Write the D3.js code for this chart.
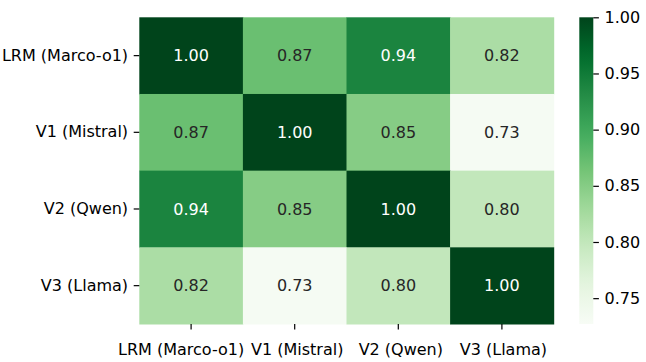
<!DOCTYPE html>
<html><head><meta charset="utf-8">
<script src="https://cdn.jsdelivr.net/npm/d3@7"></script>
<style>body{margin:0;background:#fff}svg{display:block}text{font-family:"DejaVu Sans",sans-serif}</style>
</head><body><svg id="c" width="646" height="362"></svg>
<script>
const labels = ["LRM (Marco-o1)", "V1 (Mistral)", "V2 (Qwen)", "V3 (Llama)"];
const row0 = [1.00, 0.87, 0.94, 0.82];
const row1 = [0.87, 1.00, 0.85, 0.73];
const row2 = [0.94, 0.85, 1.00, 0.80];
const row3 = [0.82, 0.73, 0.80, 1.00];
const matrix = [row0, row1, row2, row3];
const colorDomain = [0.727, 1.00];
const cbTicks = [0.75, 0.80, 0.85, 0.90, 0.95, 1.00];
const greens = ["#f7fcf5","#e5f5e0","#c7e9c0","#a1d99b","#74c476","#41ab5d","#238b45","#006d2c","#00441b"];

const FS = 16, TK = 5.6, PAD = 5.6, LW = 1.2;
const xLabelShift = [-10, 2.5, 2.5, 1.5];
const svg = d3.select("#c");
const L = 139.3, T = 17.3, R = 553.7, B = 324;
const x = d3.scaleBand().domain(labels).range([L, R]);
const y = d3.scaleBand().domain(labels).range([T, B]);
const norm = d3.scaleLinear().domain(colorDomain).range([0, 1]).clamp(true);
const cmap = d3.scaleLinear().domain(greens.map((_, i) => i / (greens.length - 1))).range(greens).interpolate(d3.interpolateRgb);
const color = v => cmap(norm(v));

const cells = [];
matrix.forEach((r, i) => r.forEach((v, j) => cells.push({r: labels[i], c: labels[j], v})));

svg.append("g").selectAll("rect").data(cells).join("rect")
  .attr("x", d => x(d.c)).attr("y", d => y(d.r))
  .attr("width", x.bandwidth() + 0.5).attr("height", y.bandwidth() + 0.5)
  .attr("fill", d => color(d.v));

function lum(c) {
  const k = d3.rgb(c);
  const f = u => { u /= 255; return u <= 0.03928 ? u / 12.92 : Math.pow((u + 0.055) / 1.055, 2.4); };
  return 0.2126 * f(k.r) + 0.7152 * f(k.g) + 0.0722 * f(k.b);
}
svg.append("g").selectAll("text").data(cells).join("text")
  .attr("x", d => x(d.c) + x.bandwidth() / 2).attr("y", d => y(d.r) + y.bandwidth() / 2)
  .attr("text-anchor", "middle").attr("dy", "0.36em")
  .attr("font-size", FS)
  .attr("fill", d => lum(color(d.v)) > 0.408 ? "#262626" : "#ffffff")
  .text(d => d.v.toFixed(2));

const xAxis = svg.append("g").attr("transform", `translate(0,${B})`)
  .call(d3.axisBottom(x).tickSize(TK).tickPadding(PAD));
const yAxis = svg.append("g").attr("transform", `translate(${L},0)`)
  .call(d3.axisLeft(y).tickSize(TK).tickPadding(PAD));
[xAxis, yAxis].forEach(a => {
  a.select(".domain").remove();
  a.selectAll("line").attr("stroke", "#000").attr("stroke-width", LW);
  a.selectAll("text").attr("font-size", FS).attr("fill", "#000").style("font-family", "DejaVu Sans, sans-serif");
});
xAxis.selectAll("text").attr("y", 20).attr("dy", "0.71em").attr("dx", (d, i) => xLabelShift[i]);

// colorbar
const cbL = 579.3, cbW = 14;
const cy = d3.scaleLinear().domain(colorDomain).range([B, T]);
const defs = svg.append("defs");
const grad = defs.append("linearGradient").attr("id", "g").attr("x1", 0).attr("y1", 1).attr("x2", 0).attr("y2", 0);
d3.range(0, 1.0001, 0.05).forEach(t => grad.append("stop").attr("offset", t).attr("stop-color", cmap(t)));
svg.append("rect").attr("x", cbL).attr("y", T).attr("width", cbW).attr("height", B - T).attr("fill", "url(#g)");
const cbAxis = svg.append("g").attr("transform", `translate(${cbL + cbW},0)`)
  .call(d3.axisRight(cy).tickValues(cbTicks).tickFormat(d3.format(".2f")).tickSize(TK).tickPadding(PAD));
cbAxis.select(".domain").remove();
cbAxis.selectAll("line").attr("stroke", "#000").attr("stroke-width", LW);
cbAxis.selectAll("text").attr("font-size", FS).attr("fill", "#000").style("font-family", "DejaVu Sans, sans-serif");
</script></body></html>
